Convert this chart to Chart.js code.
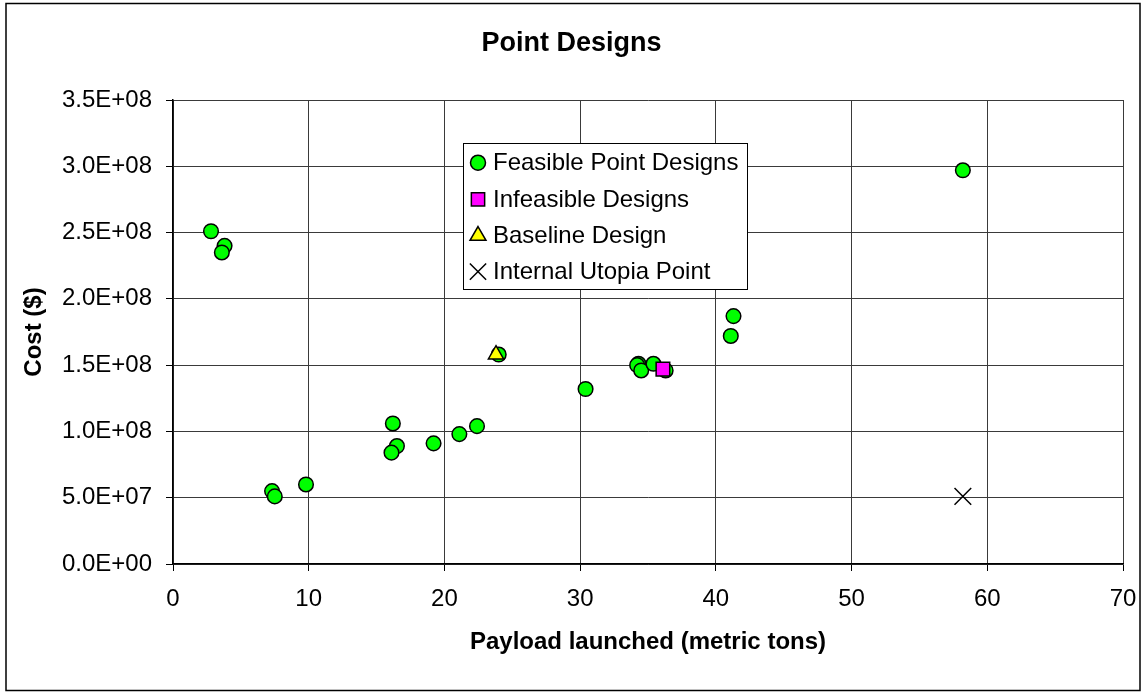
<!DOCTYPE html>
<html>
<head>
<meta charset="utf-8">
<title>Point Designs</title>
<script src="https://cdn.jsdelivr.net/npm/chart.js@4/dist/chart.umd.min.js"></script>
<style>
  html, body { margin: 0; padding: 0; background: #ffffff; }
  #wrap { width: 1143px; height: 692px; position: relative; }
  canvas { display: block; }
</style>
</head>
<body>
<div id="wrap"><canvas id="chart" width="1143" height="692"></canvas></div>
<script>
// Payload launched (metric tons) and cost ($) for each design point
const feasibleX = [2.8, 3.8, 3.6, 7.3, 7.5, 9.8, 16.2, 16.5, 16.1, 19.2, 21.1, 22.4, 24.0, 30.4, 34.3, 34.2, 34.5, 35.4, 36.3, 41.3, 41.1, 58.2];
const feasibleY = [2.51e8, 2.40e8, 2.35e8, 5.5e7, 5.1e7, 6.0e7, 1.06e8, 8.9e7, 8.4e7, 9.1e7, 9.8e7, 1.04e8, 1.58e8, 1.32e8, 1.51e8, 1.50e8, 1.46e8, 1.51e8, 1.46e8, 1.87e8, 1.72e8, 2.97e8];
const infeasibleX = [36.1];
const infeasibleY = [1.47e8];
const baselineX = [23.8];
const baselineY = [1.58e8];
const utopiaX = [58.2];
const utopiaY = [5.1e7];

const chartTitle = 'Point Designs';
const seriesLabels = ['Feasible Point Designs', 'Infeasible Designs', 'Baseline Design', 'Internal Utopia Point'];
const xTickValues = [0, 10, 20, 30, 40, 50, 60, 70];
const yTickValues = [0, 5e7, 1e8, 1.5e8, 2e8, 2.5e8, 3e8, 3.5e8];

const FONT = 'Liberation Sans, Arial, Helvetica, sans-serif';

function toPoints(xs, ys) {
  return xs.map((x, i) => ({ x: x, y: ys[i] }));
}

// Excel-style scientific notation, e.g. 1.5E+08
function sci(v) {
  const parts = Number(v).toExponential(1).split('e');
  const sign = parts[1][0];
  const digits = parts[1].slice(1).padStart(2, '0');
  return parts[0] + 'E' + sign + digits;
}

// Legend box drawn inside the plot area
const innerLegend = {
  id: 'innerLegend',
  afterDraw(chart) {
    const ctx = chart.ctx;
    const box = { left: 463, top: 143, width: 284, height: 146 };
    ctx.save();
    ctx.fillStyle = '#ffffff';
    ctx.fillRect(box.left, box.top, box.width, box.height);
    ctx.strokeStyle = '#000000';
    ctx.lineWidth = 1;
    ctx.strokeRect(box.left + 0.5, box.top + 0.5, box.width, box.height);
    const rowY = [162.7, 199.3, 235.7, 271.7];
    const legendRadius = [7.5, 9.4, 9.2, 11.5];
    chart.data.datasets.forEach((ds, i) => {
      const y = rowY[i];
      const opts = {
        pointStyle: ds.pointStyle,
        radius: legendRadius[i],
        borderWidth: ds.pointBorderWidth,
        rotation: 0
      };
      ctx.fillStyle = ds.pointBackgroundColor;
      ctx.strokeStyle = ds.pointBorderColor;
      ctx.lineWidth = ds.pointBorderWidth;
      Chart.helpers.drawPoint(ctx, opts, 478, y);
      ctx.fillStyle = '#000000';
      ctx.font = '24px ' + FONT;
      ctx.textBaseline = 'middle';
      ctx.textAlign = 'left';
      ctx.fillText(ds.label, 493, y + 1);
    });
    ctx.restore();
  }
};

// White page, outer frame and centred chart title
const frame = {
  id: 'frame',
  beforeDraw(chart) {
    const ctx = chart.ctx;
    ctx.save();
    ctx.fillStyle = '#ffffff';
    ctx.fillRect(0, 0, chart.width, chart.height);
    ctx.restore();
  },
  afterDraw(chart) {
    const ctx = chart.ctx;
    ctx.save();
    ctx.strokeStyle = '#000000';
    ctx.lineWidth = 1.5;
    ctx.strokeRect(6, 3.5, 1134, 687);
    ctx.fillStyle = '#000000';
    ctx.font = 'bold 27px ' + FONT;
    ctx.textAlign = 'center';
    ctx.textBaseline = 'middle';
    ctx.fillText(chartTitle, chart.width / 2, 44);
    ctx.restore();
  }
};

new Chart(document.getElementById('chart'), {
  type: 'scatter',
  data: {
    datasets: [
      {
        label: seriesLabels[0],
        data: toPoints(feasibleX, feasibleY),
        pointStyle: 'circle',
        pointRadius: 7.3,
        pointBackgroundColor: '#00ff00',
        pointBorderColor: '#000000',
        pointBorderWidth: 1.5,
        order: 3
      },
      {
        label: seriesLabels[1],
        data: toPoints(infeasibleX, infeasibleY),
        pointStyle: 'rect',
        pointRadius: 9.6,
        pointBackgroundColor: '#ff00ff',
        pointBorderColor: '#000000',
        pointBorderWidth: 1.5,
        order: 1
      },
      {
        label: seriesLabels[2],
        data: toPoints(baselineX, baselineY),
        pointStyle: 'triangle',
        pointRadius: 8.8,
        pointBackgroundColor: '#ffff00',
        pointBorderColor: '#000000',
        pointBorderWidth: 1.5,
        order: 2
      },
      {
        label: seriesLabels[3],
        data: toPoints(utopiaX, utopiaY),
        pointStyle: 'crossRot',
        pointRadius: 11.8,
        pointBackgroundColor: '#000000',
        pointBorderColor: '#000000',
        pointBorderWidth: 1.5,
        order: 0
      }
    ]
  },
  options: {
    responsive: false,
    animation: false,
    events: [],
    layout: { padding: { left: 0, right: 20, top: 100, bottom: 0 } },
    plugins: {
      legend: { display: false },
      tooltip: { enabled: false },
      title: { display: false }
    },
    scales: {
      x: {
        type: 'linear',
        min: 0,
        max: 70,
        afterBuildTicks(scale) { scale.ticks = xTickValues.map(v => ({ value: v })); },
        afterFit(scale) {
          scale.height = 128;
          scale.paddingLeft = 0;
          scale.paddingRight = 0;
        },
        ticks: {
          color: '#000000',
          font: { family: FONT, size: 24 },
          padding: 14,
          maxRotation: 0,
          callback: v => String(v)
        },
        grid: { color: '#3a3a3a', lineWidth: 1, tickLength: 7, tickColor: '#000000', drawTicks: true },
        border: { display: true, color: '#000000', width: 1.5 },
        title: {
          display: true,
          text: 'Payload launched (metric tons)',
          color: '#000000',
          font: { family: FONT, size: 24, weight: 'bold', lineHeight: 1.2 },
          padding: { top: 0, bottom: 35 }
        }
      },
      y: {
        type: 'linear',
        min: 0,
        max: 3.5e8,
        afterBuildTicks(scale) { scale.ticks = yTickValues.map(v => ({ value: v })); },
        afterFit(scale) {
          scale.width = 173;
          scale.paddingTop = 0;
          scale.paddingBottom = 0;
        },
        ticks: {
          color: '#000000',
          font: { family: FONT, size: 24 },
          padding: 14,
          callback: v => sci(v)
        },
        grid: { color: '#3a3a3a', lineWidth: 1, tickLength: 7, tickColor: '#000000', drawTicks: true },
        border: { display: true, color: '#000000', width: 1.5 },
        title: {
          display: true,
          text: 'Cost ($)',
          color: '#000000',
          font: { family: FONT, size: 24, weight: 'bold', lineHeight: 1.2 },
          padding: { top: 20, bottom: 0 }
        }
      }
    }
  },
  plugins: [frame, innerLegend]
});
</script>
</body>
</html>
